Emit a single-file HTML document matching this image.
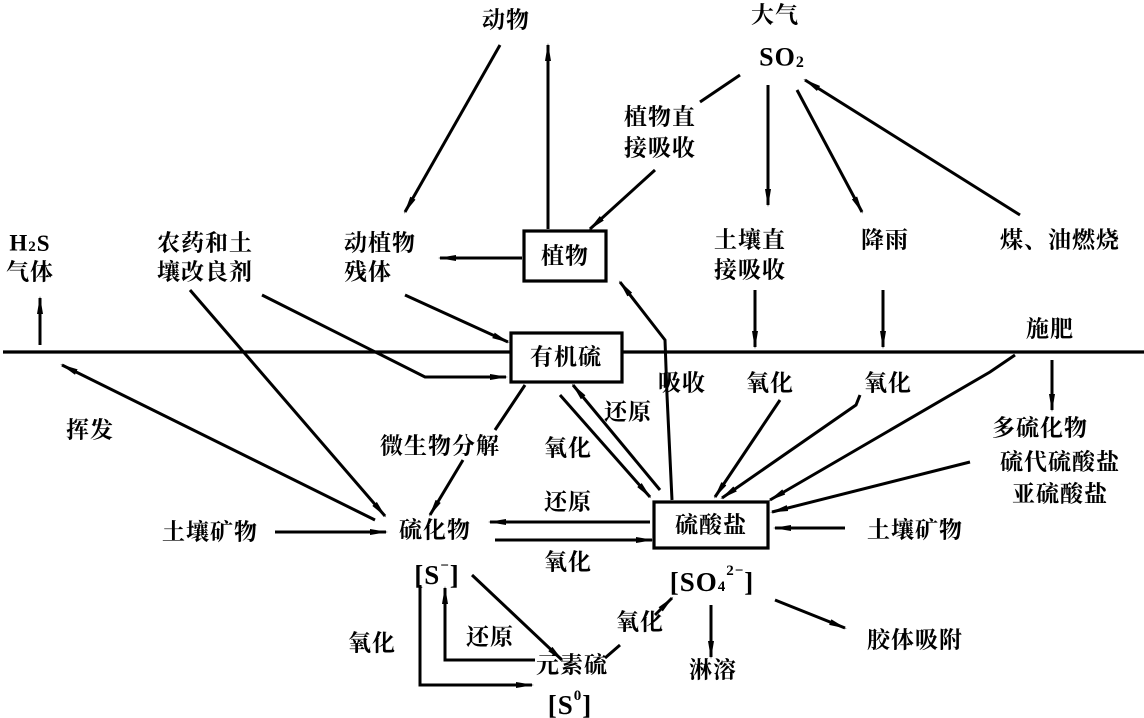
<!DOCTYPE html>
<html><head><meta charset="utf-8"><style>
html,body{margin:0;padding:0;background:#fff;}
svg{display:block;}
text{font-family:"Liberation Serif","Noto Serif CJK SC","Noto Sans CJK SC",serif;font-weight:bold;font-size:23px;fill:#000;text-anchor:middle;dominant-baseline:central;letter-spacing:1px;}
</style></head><body>
<svg width="1144" height="718" viewBox="0 0 1144 718" xmlns="http://www.w3.org/2000/svg">
<defs>
<marker id="a" markerWidth="18" markerHeight="8" refX="16" refY="4" orient="auto" markerUnits="userSpaceOnUse">
<path d="M0,1 L18,4 L0,7 Z" fill="#000"/>
</marker>
</defs>
<g stroke="#000" stroke-width="3.2" fill="none">
<line x1="3" y1="352" x2="1144" y2="352"/>
<rect x="511" y="333" width="111" height="49" fill="#fff"/>
<rect x="654" y="502" width="114" height="46" fill="#fff"/>
<rect x="524" y="231" width="82" height="50" fill="#fff"/>
</g>
<g stroke="#000" stroke-width="3" fill="none" marker-end="url(#a)">
<line x1="548" y1="229" x2="548" y2="45"/>
<line x1="500" y1="45" x2="405" y2="212"/>
<line x1="655" y1="170" x2="590" y2="229"/>
<line x1="768" y1="85" x2="768" y2="205"/>
<line x1="797" y1="90" x2="862" y2="212"/>
<line x1="1020" y1="215" x2="805" y2="80"/>
<line x1="522" y1="258" x2="440" y2="258"/>
<line x1="405" y1="295" x2="508" y2="342"/>
<polyline points="672,500 667,395 665,340 620,282"/>
<polyline points="262,295 425,377 506,377"/>
<line x1="190" y1="290" x2="385" y2="516"/>
<line x1="40" y1="345" x2="40" y2="298"/>
<line x1="375" y1="520" x2="62" y2="365"/>
<line x1="275" y1="532" x2="386" y2="532"/>
<line x1="463" y1="460" x2="430" y2="515"/>
<line x1="560" y1="395" x2="650" y2="497"/>
<line x1="660" y1="490" x2="573" y2="385"/>
<line x1="650" y1="522" x2="490" y2="522"/>
<line x1="495" y1="540" x2="652" y2="540"/>
<line x1="755" y1="290" x2="755" y2="347"/>
<line x1="780" y1="400" x2="715" y2="497"/>
<line x1="883" y1="290" x2="883" y2="347"/>
<polyline points="860,395 856,405 722,498"/>
<polyline points="1015,355 990,372 770,500"/>
<line x1="1052" y1="360" x2="1052" y2="410"/>
<line x1="970" y1="462" x2="772" y2="512"/>
<line x1="845" y1="528" x2="775" y2="528"/>
<line x1="775" y1="600" x2="845" y2="628"/>
<line x1="711" y1="605" x2="711" y2="657"/>
<line x1="655" y1="615" x2="672" y2="598"/>
<line x1="472" y1="575" x2="562" y2="660"/>
<polyline points="420,585 420,685 532,685"/>
<polyline points="535,660 445,660 445,588"/>
</g>
<g stroke="#000" stroke-width="3" fill="none">
<line x1="740" y1="75" x2="700" y2="102"/>
<line x1="525" y1="385" x2="495" y2="430"/>
<line x1="605" y1="658" x2="620" y2="645"/>
</g>
<text x="506" y="20">动物</text>
<text x="775" y="15">大气</text>
<text x="782" y="57" style="font-size:26px">SO<tspan style="font-size:16px" dy="5">2</tspan></text>
<text x="660" y="117">植物直</text>
<text x="660" y="148">接吸收</text>
<text x="30" y="243">H<tspan style="font-size:15px" dy="4">2</tspan><tspan dy="-4">S</tspan></text>
<text x="30" y="272">气体</text>
<text x="205" y="243">农药和土</text>
<text x="205" y="272">壤改良剂</text>
<text x="380" y="243">动植物</text>
<text x="368" y="272">残体</text>
<text x="565" y="256">植物</text>
<text x="750" y="240">土壤直</text>
<text x="750" y="270">接吸收</text>
<text x="885" y="240">降雨</text>
<text x="1060" y="240">煤、油燃烧</text>
<text x="1050" y="329">施肥</text>
<text x="566" y="357">有机硫</text>
<text x="90" y="430">挥发</text>
<text x="682" y="383">吸收</text>
<text x="770" y="383">氧化</text>
<text x="888" y="383">氧化</text>
<text x="628" y="412">还原</text>
<text x="440" y="446">微生物分解</text>
<text x="568" y="448">氧化</text>
<text x="1040" y="428">多硫化物</text>
<text x="1060" y="462">硫代硫酸盐</text>
<text x="1060" y="494">亚硫酸盐</text>
<text x="210" y="532">土壤矿物</text>
<text x="435" y="530">硫化物</text>
<text x="568" y="502">还原</text>
<text x="568" y="562">氧化</text>
<text x="711" y="525">硫酸盐</text>
<text x="915" y="530">土壤矿物</text>
<text x="437" y="575" style="font-size:27px">[S<tspan style="font-size:15px" dy="-9">−</tspan><tspan dy="9">]</tspan></text>
<text x="712" y="582" style="font-size:27px">[SO<tspan style="font-size:15px" dy="5">4</tspan><tspan style="font-size:15px" dy="-16">2−</tspan><tspan dy="11">]</tspan></text>
<text x="640" y="622">氧化</text>
<text x="490" y="637">还原</text>
<text x="372" y="643">氧化</text>
<text x="915" y="640">胶体吸附</text>
<text x="572" y="665">元素硫</text>
<text x="713" y="670">淋溶</text>
<text x="570" y="705" style="font-size:27px">[S<tspan style="font-size:15px" dy="-9">0</tspan><tspan dy="9">]</tspan></text>
</svg>
</body></html>
